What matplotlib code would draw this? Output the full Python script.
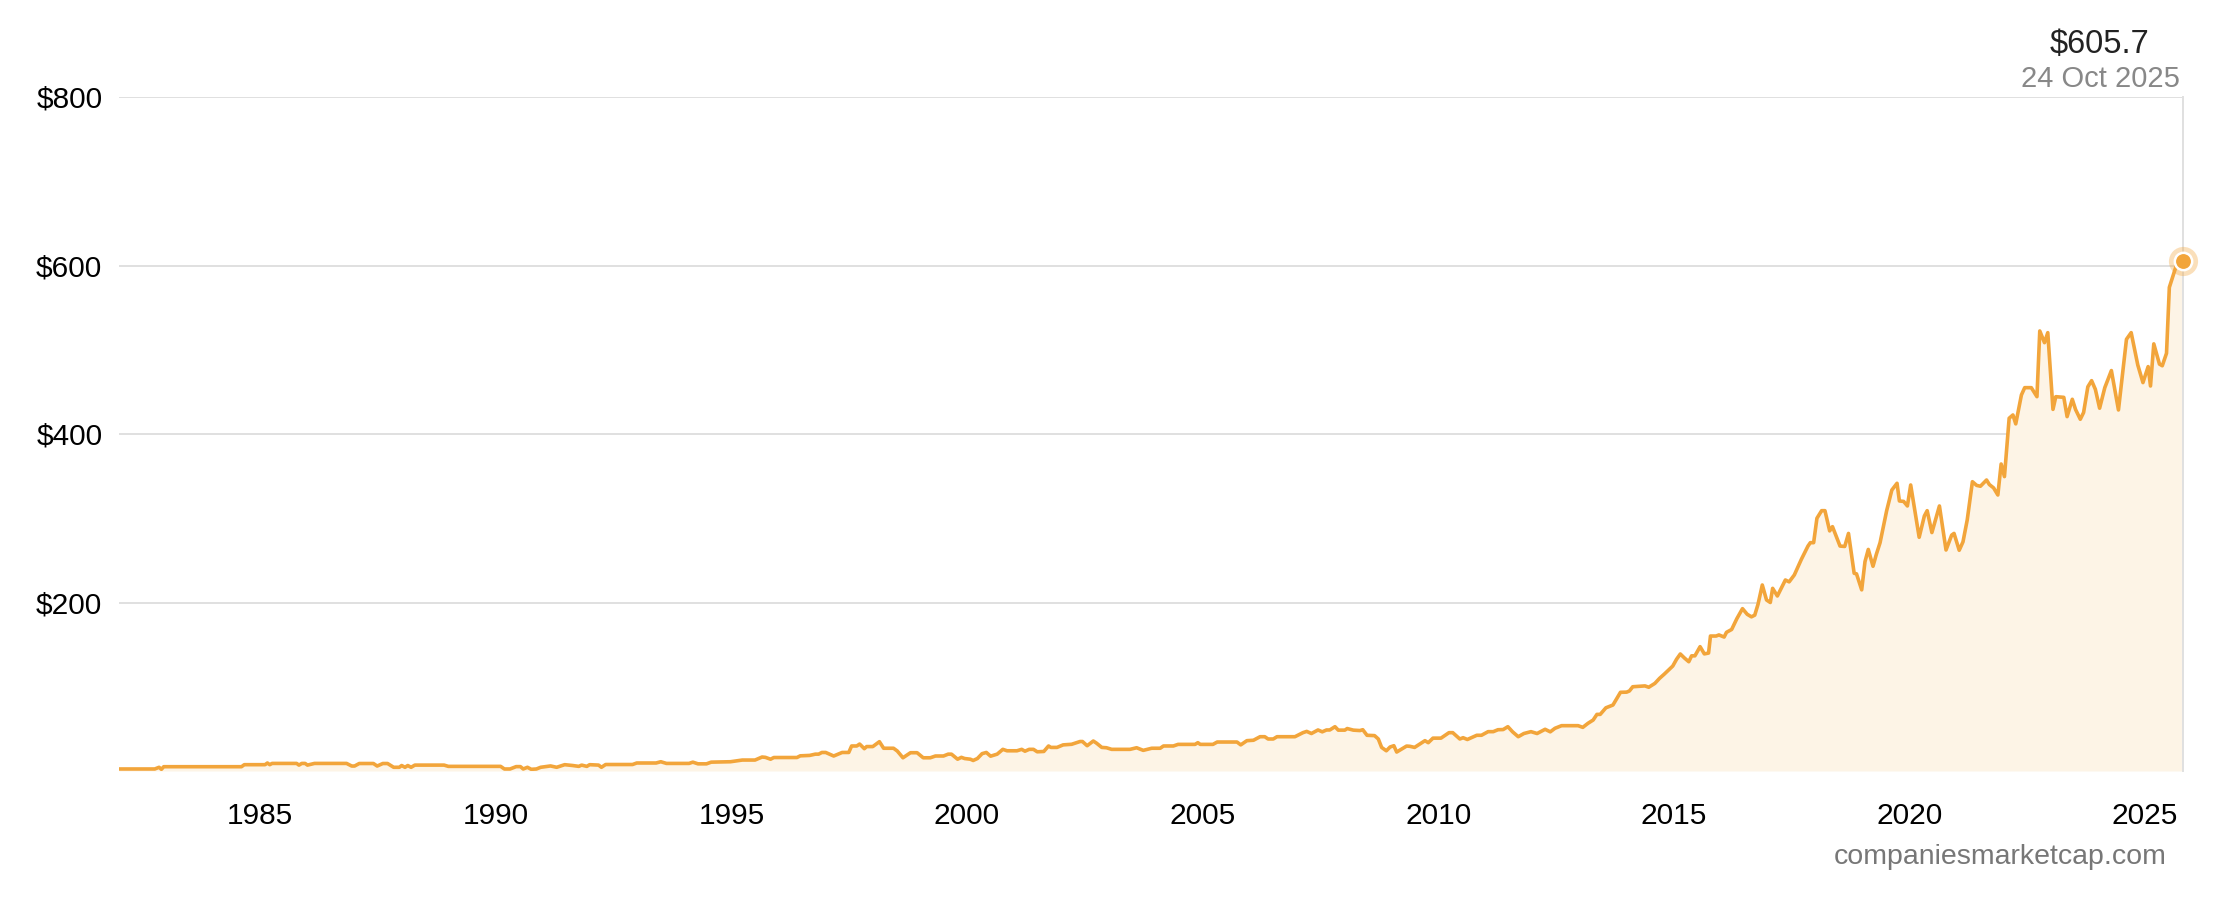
import matplotlib.pyplot as plt
import matplotlib.ticker as mticker

# Share price (USD), decimal years
years = [
    1982.0, 1982.76, 1982.85, 1982.9, 1982.95, 1984.6, 1984.66, 1985.1, 1985.15, 1985.2,
    1985.25, 1985.77, 1985.82, 1985.88, 1985.95, 1986.0, 1986.15, 1986.83, 1986.94, 1987.0,
    1987.1, 1987.4, 1987.48, 1987.6, 1987.7, 1987.83, 1987.95, 1988.0, 1988.07, 1988.13,
    1988.2, 1988.28, 1988.9, 1988.99, 1990.1, 1990.18, 1990.3, 1990.43, 1990.52, 1990.58,
    1990.67, 1990.75, 1990.86, 1990.95, 1991.16, 1991.29, 1991.46, 1991.63, 1991.76, 1991.82,
    1991.93, 1991.99, 1992.18, 1992.24, 1992.33, 1992.9, 1992.99, 1993.4, 1993.5, 1993.62,
    1994.1, 1994.18, 1994.29, 1994.47, 1994.57, 1994.98,
    1995.23, 1995.5, 1995.65, 1995.72, 1995.83, 1995.9, 1996.39, 1996.46, 1996.66, 1996.78,
    1996.85, 1996.92, 1997.0, 1997.17, 1997.35, 1997.49, 1997.55, 1997.66, 1997.72, 1997.82,
    1997.87, 1998.0, 1998.14, 1998.23, 1998.44, 1998.52, 1998.64, 1998.8, 1998.94, 1999.07,
    1999.22, 1999.33, 1999.5, 1999.6, 1999.67, 1999.8, 1999.88, 1999.95, 2000.07, 2000.13,
    2000.22, 2000.32, 2000.41, 2000.5, 2000.64, 2000.76, 2000.85, 2001.06, 2001.16, 2001.23,
    2001.32, 2001.41, 2001.49, 2001.63, 2001.73, 2001.78, 2001.91, 2002.04, 2002.22, 2002.4,
    2002.45, 2002.55, 2002.68, 2002.75, 2002.86, 2002.96, 2003.07, 2003.46,
    2003.6, 2003.74, 2003.92, 2004.1, 2004.17, 2004.38, 2004.48, 2004.84, 2004.9, 2004.95,
    2005.22, 2005.31, 2005.73, 2005.81, 2005.94, 2006.08, 2006.22, 2006.32, 2006.39, 2006.5,
    2006.58, 2006.96, 2007.13, 2007.21, 2007.31, 2007.45, 2007.54, 2007.63, 2007.7, 2007.81,
    2007.88, 2008.02, 2008.07, 2008.2, 2008.34, 2008.4, 2008.49, 2008.65, 2008.73, 2008.8,
    2008.9, 2008.98, 2009.06, 2009.12, 2009.33, 2009.4, 2009.5, 2009.72, 2009.79, 2009.89,
    2010.06, 2010.23, 2010.31, 2010.46, 2010.53, 2010.62, 2010.82, 2010.92, 2011.06, 2011.17,
    2011.27, 2011.38, 2011.48, 2011.58, 2011.7, 2011.82, 2011.97,
    2012.1, 2012.27, 2012.38, 2012.48, 2012.62, 2012.97, 2013.07, 2013.18, 2013.29, 2013.37,
    2013.44, 2013.56, 2013.71, 2013.87, 2014.0, 2014.06, 2014.13, 2014.39, 2014.47, 2014.6,
    2014.7, 2014.8, 2014.98, 2015.06, 2015.14, 2015.23, 2015.32, 2015.38, 2015.45, 2015.56,
    2015.65, 2015.74, 2015.78, 2015.9, 2015.96, 2016.07, 2016.12, 2016.23, 2016.34, 2016.46,
    2016.56, 2016.65, 2016.72, 2016.79, 2016.88, 2016.97, 2017.05, 2017.1, 2017.2, 2017.37,
    2017.45, 2017.56, 2017.71, 2017.85, 2017.9, 2017.97, 2018.04, 2018.14, 2018.21, 2018.31,
    2018.37, 2018.53, 2018.63, 2018.71, 2018.83, 2018.88, 2018.99, 2019.06, 2019.13, 2019.23,
    2019.3, 2019.38, 2019.52, 2019.63, 2019.74, 2019.79, 2019.88, 2019.96, 2020.03, 2020.21,
    2020.32, 2020.38, 2020.48, 2020.64, 2020.78, 2020.9, 2020.95, 2021.06, 2021.14, 2021.23,
    2021.34, 2021.43, 2021.51, 2021.64, 2021.7, 2021.79, 2021.88, 2021.95, 2022.02, 2022.12,
    2022.2, 2022.26, 2022.38, 2022.45, 2022.59, 2022.71, 2022.77, 2022.87, 2022.94, 2023.05,
    2023.11, 2023.28, 2023.35, 2023.46, 2023.53, 2023.63, 2023.7, 2023.79, 2023.87, 2023.95,
    2024.04, 2024.15, 2024.29, 2024.44, 2024.61, 2024.71, 2024.85, 2024.96, 2025.07, 2025.12,
    2025.19, 2025.31, 2025.37, 2025.46, 2025.52, 2025.66, 2025.81,
]
prices = [
    2.4, 2.4, 4.4, 2.0, 5.1, 5.1, 7.5, 7.5, 9.5, 7.5,
    9.0, 9.0, 7.0, 9.0, 9.0, 7.0, 9.0, 9.0, 5.9, 5.9,
    8.9, 8.9, 5.9, 8.9, 8.9, 4.4, 4.4, 6.5, 4.4, 6.5,
    4.4, 7.0, 7.0, 5.5, 5.5, 2.4, 2.4, 5.2, 5.2, 2.4,
    4.4, 2.0, 2.4, 4.4, 6.0, 4.4, 7.5, 6.5, 5.5, 7.0,
    5.5, 7.5, 7.0, 4.4, 7.7, 7.7, 9.5, 9.5, 11.0, 9.0,
    9.0, 10.5, 8.5, 8.5, 10.5, 11.0,
    13.0, 13.0, 16.6, 16.2, 14.0, 16.0, 16.0, 18.0, 18.5, 20.0,
    20.0, 22.0, 22.0, 17.8, 22.0, 22.0, 29.7, 29.7, 32.0, 26.5,
    29.0, 29.0, 34.8, 27.0, 27.0, 23.7, 15.7, 21.7, 21.7, 15.7,
    15.7, 17.8, 17.8, 20.0, 20.0, 14.0, 16.2, 14.8, 14.0, 12.5,
    14.8, 20.6, 22.0, 17.6, 20.0, 25.7, 24.0, 24.0, 25.7, 23.5,
    25.7, 25.7, 22.8, 23.2, 29.7, 28.0, 28.0, 31.0, 31.7, 35.0,
    35.0, 30.0, 35.6, 33.0, 28.0, 27.6, 25.7, 25.7,
    27.6, 24.5, 27.0, 27.0, 29.7, 29.7, 31.6, 31.6, 33.6, 31.6,
    31.6, 34.4, 34.4, 31.0, 36.0, 36.5, 40.7, 40.7, 38.0, 38.0,
    40.7, 40.7, 45.5, 47.0, 44.5, 48.7, 46.5, 48.7, 48.7, 52.6,
    48.5, 48.5, 50.4, 48.5, 48.0, 49.0, 42.4, 42.0, 38.0, 28.0,
    24.0, 28.5, 30.0, 22.5, 29.6, 29.3, 28.0, 36.0, 33.6, 39.0,
    39.0, 45.5, 45.5, 38.0, 39.5, 37.4, 42.4, 42.4, 46.7, 46.7,
    49.0, 49.2, 52.6, 46.5, 40.7, 44.5, 46.7,
    44.5, 49.5, 46.5, 50.7, 53.8, 53.8, 51.8, 56.6, 60.5, 67.2,
    67.2, 75.0, 78.3, 93.4, 93.6, 95.0, 100.0, 101.0, 99.4, 104.0,
    110.0, 115.0, 124.6, 132.6, 138.9, 134.0, 129.7, 136.7, 136.7, 147.6,
    139.0, 140.0, 160.2, 160.2, 161.5, 159.0, 164.6, 168.0, 180.8, 192.7,
    186.0, 183.0, 185.0, 198.0, 220.8, 203.0, 200.0, 216.8, 207.7, 226.7,
    224.5, 232.7, 251.3, 267.0, 271.0, 271.0, 300.0, 309.0, 309.0, 285.0,
    290.0, 267.0, 266.5, 282.0, 234.7, 234.0, 215.0, 248.5, 263.0, 243.0,
    257.0, 271.0, 309.0, 333.5, 341.5, 320.5, 320.0, 314.6, 339.5, 277.4,
    302.7, 309.0, 283.0, 314.6, 262.3, 280.0, 282.0, 262.0, 272.0, 298.0,
    343.4, 339.0, 338.0, 345.4, 340.0, 336.0, 327.6, 364.4, 349.4, 418.7,
    422.6, 412.0, 446.3, 455.0, 455.0, 444.3, 522.3, 508.4, 520.3, 429.2,
    444.3, 443.5, 420.6, 441.2, 429.0, 417.5, 425.5, 456.0, 463.3, 453.0,
    430.6, 455.0, 475.3, 428.5, 512.4, 520.3, 482.0, 461.0, 480.0, 457.0,
    507.0, 483.0, 481.0, 495.8, 574.0, 598.6, 605.7,
]

y_ticks = [200, 400, 600, 800]
x_ticks = [1985, 1990, 1995, 2000, 2005, 2010, 2015, 2020, 2025]
last_price_label = "$605.7"
last_date_label = "24 Oct 2025"

LINE = '#f2a53b'
FILL = '#fdf4e6'
GRID = '#e0e0e0'

plt.rcParams['font.family'] = ['Liberation Sans', 'DejaVu Sans']

fig = plt.figure(figsize=(22.28, 8.98), dpi=100)
ax = fig.add_axes([119 / 2228, 1 - 771 / 898, (2183 - 119) / 2228, (771 - 97) / 898])

ax.fill_between(years, prices, 0, color=FILL, linewidth=0, zorder=1)
ax.plot(years, prices, color=LINE, linewidth=2.6, solid_joinstyle='round', zorder=3)

# highlighted last point
ax.plot(years[-1], prices[-1], 'o', markersize=21, color=LINE, alpha=0.35,
        markeredgewidth=0, clip_on=False, zorder=4)
ax.plot(years[-1], prices[-1], 'o', markersize=12.5, color=LINE,
        markeredgecolor='white', markeredgewidth=1.8, clip_on=False, zorder=5)

ax.set_xlim(years[0], years[-1])
ax.set_ylim(0, 800)
ax.set_yticks(y_ticks)
ax.yaxis.set_major_formatter(mticker.FuncFormatter(lambda v, p: f'${v:.0f}'))
ax.set_xticks(x_ticks)

ax.grid(axis='y', color=GRID, linewidth=1.4, zorder=0)
ax.set_axisbelow(True)
for side in ['top', 'left', 'bottom']:
    ax.spines[side].set_visible(False)
ax.spines['right'].set_color(GRID)
ax.spines['right'].set_linewidth(1.4)

ax.tick_params(axis='both', length=0, labelsize=21.5, colors='black')
ax.tick_params(axis='y', pad=12)
ax.tick_params(axis='x', pad=22)

fig.text(2100 / 2228, 1 - 45 / 898, last_price_label, ha='center', va='center',
         fontsize=23.5, color='#222222')
fig.text(2100 / 2228, 1 - 79 / 898, last_date_label, ha='center', va='center',
         fontsize=21, color='#888888')
fig.text(2167 / 2228, 1 - 857 / 898, 'companiesmarketcap.com', ha='right', va='center',
         fontsize=20.5, color='#777777')

fig.savefig('out.png', dpi=100, facecolor='white')
